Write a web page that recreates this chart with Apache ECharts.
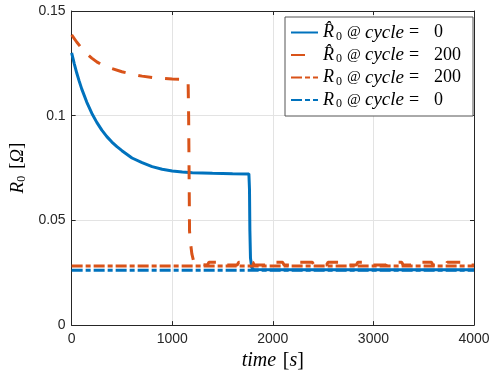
<!DOCTYPE html>
<html>
<head>
<meta charset="utf-8">
<script src="https://cdn.jsdelivr.net/npm/echarts@6/dist/echarts.min.js"></script>
<style>
  html, body { margin: 0; padding: 0; background: #fff; }
  #chart { width: 493px; height: 376px; }
</style>
</head>
<body>
<div id="chart"></div>
<script>
// estimated R0 at cycle 0
const tHat0 = [0, 25, 50, 75, 100, 150, 200, 250, 300, 350, 400, 450, 500, 600, 700, 800, 900, 1000, 1100, 1200, 1400, 1600, 1762, 1768, 1772, 1778, 1790, 1810, 2000, 4000];
const rHat0 = [0.1300, 0.1250, 0.1205, 0.1165, 0.1128, 0.1065, 0.1012, 0.0968, 0.0931, 0.0900, 0.0874, 0.0852, 0.0833, 0.0798, 0.0776, 0.0757, 0.0744, 0.0736, 0.0731, 0.0728, 0.0725, 0.0723, 0.0722, 0.0650, 0.0450, 0.0320, 0.0275, 0.0265, 0.0264, 0.0264];

// estimated R0 at cycle 200
const tHat200 = [0, 50, 100, 150, 200, 250, 300, 400, 500, 600, 700, 800, 900, 1000, 1100, 1150, 1158, 1163, 1168, 1172, 1180, 1195, 1210, 1230,
  1350, 1365, 1505, 1520, 1646, 1661, 1801, 1816, 1942, 1957, 2097, 2112, 2238, 2253, 2393, 2408,
  2534, 2549, 2689, 2704, 2830, 2845, 2985, 3000, 3126, 3141, 3281, 3296, 3422, 3437, 3577, 3592,
  3718, 3733, 3873, 3888, 4000];
const rHat200 = [0.1386, 0.1352, 0.1322, 0.1296, 0.1275, 0.1257, 0.1243, 0.1225, 0.1210, 0.1198, 0.1189, 0.1182, 0.1178, 0.1175, 0.1173, 0.1172, 0.1160, 0.1000, 0.0700, 0.0450, 0.0400, 0.0340, 0.0310, 0.0290,
  0.0287, 0.0300, 0.0300, 0.0287, 0.0287, 0.0300, 0.0300, 0.0287, 0.0287, 0.0300, 0.0300, 0.0287, 0.0287, 0.0300, 0.0300, 0.0287,
  0.0287, 0.0300, 0.0300, 0.0287, 0.0287, 0.0300, 0.0300, 0.0287, 0.0287, 0.0300, 0.0300, 0.0287, 0.0287, 0.0300, 0.0300, 0.0287,
  0.0287, 0.0300, 0.0300, 0.0287, 0.0287];

// reference values
const tRef = [0, 4000];
const rRef200 = [0.0282, 0.0282];
const rRef0 = [0.0262, 0.0262];

const seriesNames = ['hat0', 'hat200', 'ref200', 'ref0'];
const legendLabels = {
  hat0: '{r|R̂}{s|0}{n|@}{i|cycle}{e|=}{d|0}',
  hat200: '{r|R̂}{s|0}{n|@}{i|cycle}{e|=}{d|200}',
  ref200: '{r|R}{s|0}{n|@}{i|cycle}{e|=}{d|200}',
  ref0: '{r|R}{s|0}{n|@}{i|cycle}{e|=}{d|0}'
};

const zip = (xs, ys) => xs.map((x, i) => [x, ys[i]]);

const blue = '#0072BD';
const orange = '#D95319';
const axisColor = '#262626';
const serif = 'Liberation Serif';
const sans = 'Liberation Sans';

const chart = echarts.init(document.getElementById('chart'));

const sideAxis = {
  type: 'value',
  min: 0,
  axisLine: { show: true, onZero: false, lineStyle: { color: axisColor, width: 1 } },
  axisTick: { show: true, inside: true, length: 4, lineStyle: { color: axisColor } },
  axisLabel: { show: false },
  splitLine: { show: false }
};

chart.setOption({
  animation: false,
  grid: { left: 68, right: 19, top: 11, bottom: 49 },
  legend: {
    orient: 'vertical',
    left: 285,
    top: 17,
    padding: [6, 12, 6, 5],
    itemWidth: 27,
    itemHeight: 20,
    itemGap: 3,
    // hide the marker drawn in the middle of the legend line
    itemStyle: { color: 'rgba(0,0,0,0)', borderWidth: 0, opacity: 0 },
    backgroundColor: '#fff',
    borderColor: '#555',
    borderWidth: 1,
    borderRadius: 0,
    data: seriesNames,
    formatter: name => legendLabels[name],
    textStyle: {
      color: '#000',
      rich: {
        r: { fontFamily: serif, fontStyle: 'italic', fontSize: 18, lineHeight: 20, width: 13 },
        s: { fontFamily: serif, fontSize: 12, lineHeight: 11, verticalAlign: 'bottom', width: 11 },
        n: { fontFamily: serif, fontSize: 15, lineHeight: 20, width: 18 },
        i: { fontFamily: serif, fontStyle: 'italic', fontSize: 19, lineHeight: 20, width: 44 },
        e: { fontFamily: serif, fontSize: 18, lineHeight: 20, width: 25 },
        d: { fontFamily: serif, fontSize: 18, lineHeight: 20 }
      }
    }
  },
  xAxis: [
    {
      type: 'value',
      min: 0,
      max: 4000,
      interval: 1000,
      name: '{i|time}  {n|[}{i|s}{n|]}',
      nameLocation: 'middle',
      nameGap: 21,
      nameTextStyle: {
        rich: {
          i: { fontFamily: serif, fontStyle: 'italic', fontSize: 20, color: '#000' },
          n: { fontFamily: serif, fontSize: 20, color: '#000' }
        }
      },
      axisLine: { show: true, onZero: false, lineStyle: { color: axisColor, width: 1 } },
      axisTick: { show: true, inside: true, length: 4, lineStyle: { color: axisColor } },
      axisLabel: { color: axisColor, fontFamily: sans, fontSize: 14, margin: 7, formatter: v => String(v) },
      splitLine: { show: true, lineStyle: { color: '#e3e3e3', width: 1 } }
    },
    Object.assign({}, sideAxis, { position: 'top', max: 4000, interval: 1000 })
  ],
  yAxis: [
    {
      type: 'value',
      min: 0,
      max: 0.15,
      interval: 0.05,
      name: '{i|R}{s|0}  {n|[}{i|Ω}{n|]}',
      nameLocation: 'middle',
      nameGap: 27,
      nameTextStyle: {
        rich: {
          i: { fontFamily: serif, fontStyle: 'italic', fontSize: 19, lineHeight: 20, color: '#000' },
          s: { fontFamily: serif, fontSize: 12, lineHeight: 11, verticalAlign: 'bottom', color: '#000' },
          n: { fontFamily: serif, fontSize: 19, lineHeight: 20, color: '#000' }
        }
      },
      axisLine: { show: true, onZero: false, lineStyle: { color: axisColor, width: 1 } },
      axisTick: { show: true, inside: true, length: 4, lineStyle: { color: axisColor } },
      axisLabel: { color: axisColor, fontFamily: sans, fontSize: 14, margin: 6 },
      splitLine: { show: true, lineStyle: { color: '#e3e3e3', width: 1 } }
    },
    Object.assign({}, sideAxis, { position: 'right', max: 0.15, interval: 0.05 })
  ],
  series: [
    {
      name: 'hat0', type: 'line', showSymbol: false, symbol: 'none',
      data: zip(tHat0, rHat0),
      lineStyle: { color: blue, width: 3 }, itemStyle: { color: blue }
    },
    {
      name: 'hat200', type: 'line', showSymbol: false, symbol: 'none',
      data: zip(tHat200, rHat200),
      lineStyle: { color: orange, width: 3, type: [14, 13] }, itemStyle: { color: orange }
    },
    {
      name: 'ref200', type: 'line', showSymbol: false, symbol: 'none',
      data: zip(tRef, rRef200),
      lineStyle: { color: orange, width: 3, type: [11, 3, 5, 3] }, itemStyle: { color: orange }
    },
    {
      name: 'ref0', type: 'line', showSymbol: false, symbol: 'none',
      data: zip(tRef, rRef0),
      lineStyle: { color: blue, width: 3, type: [11, 3, 5, 3] }, itemStyle: { color: blue }
    }
  ]
});
</script>
</body>
</html>
